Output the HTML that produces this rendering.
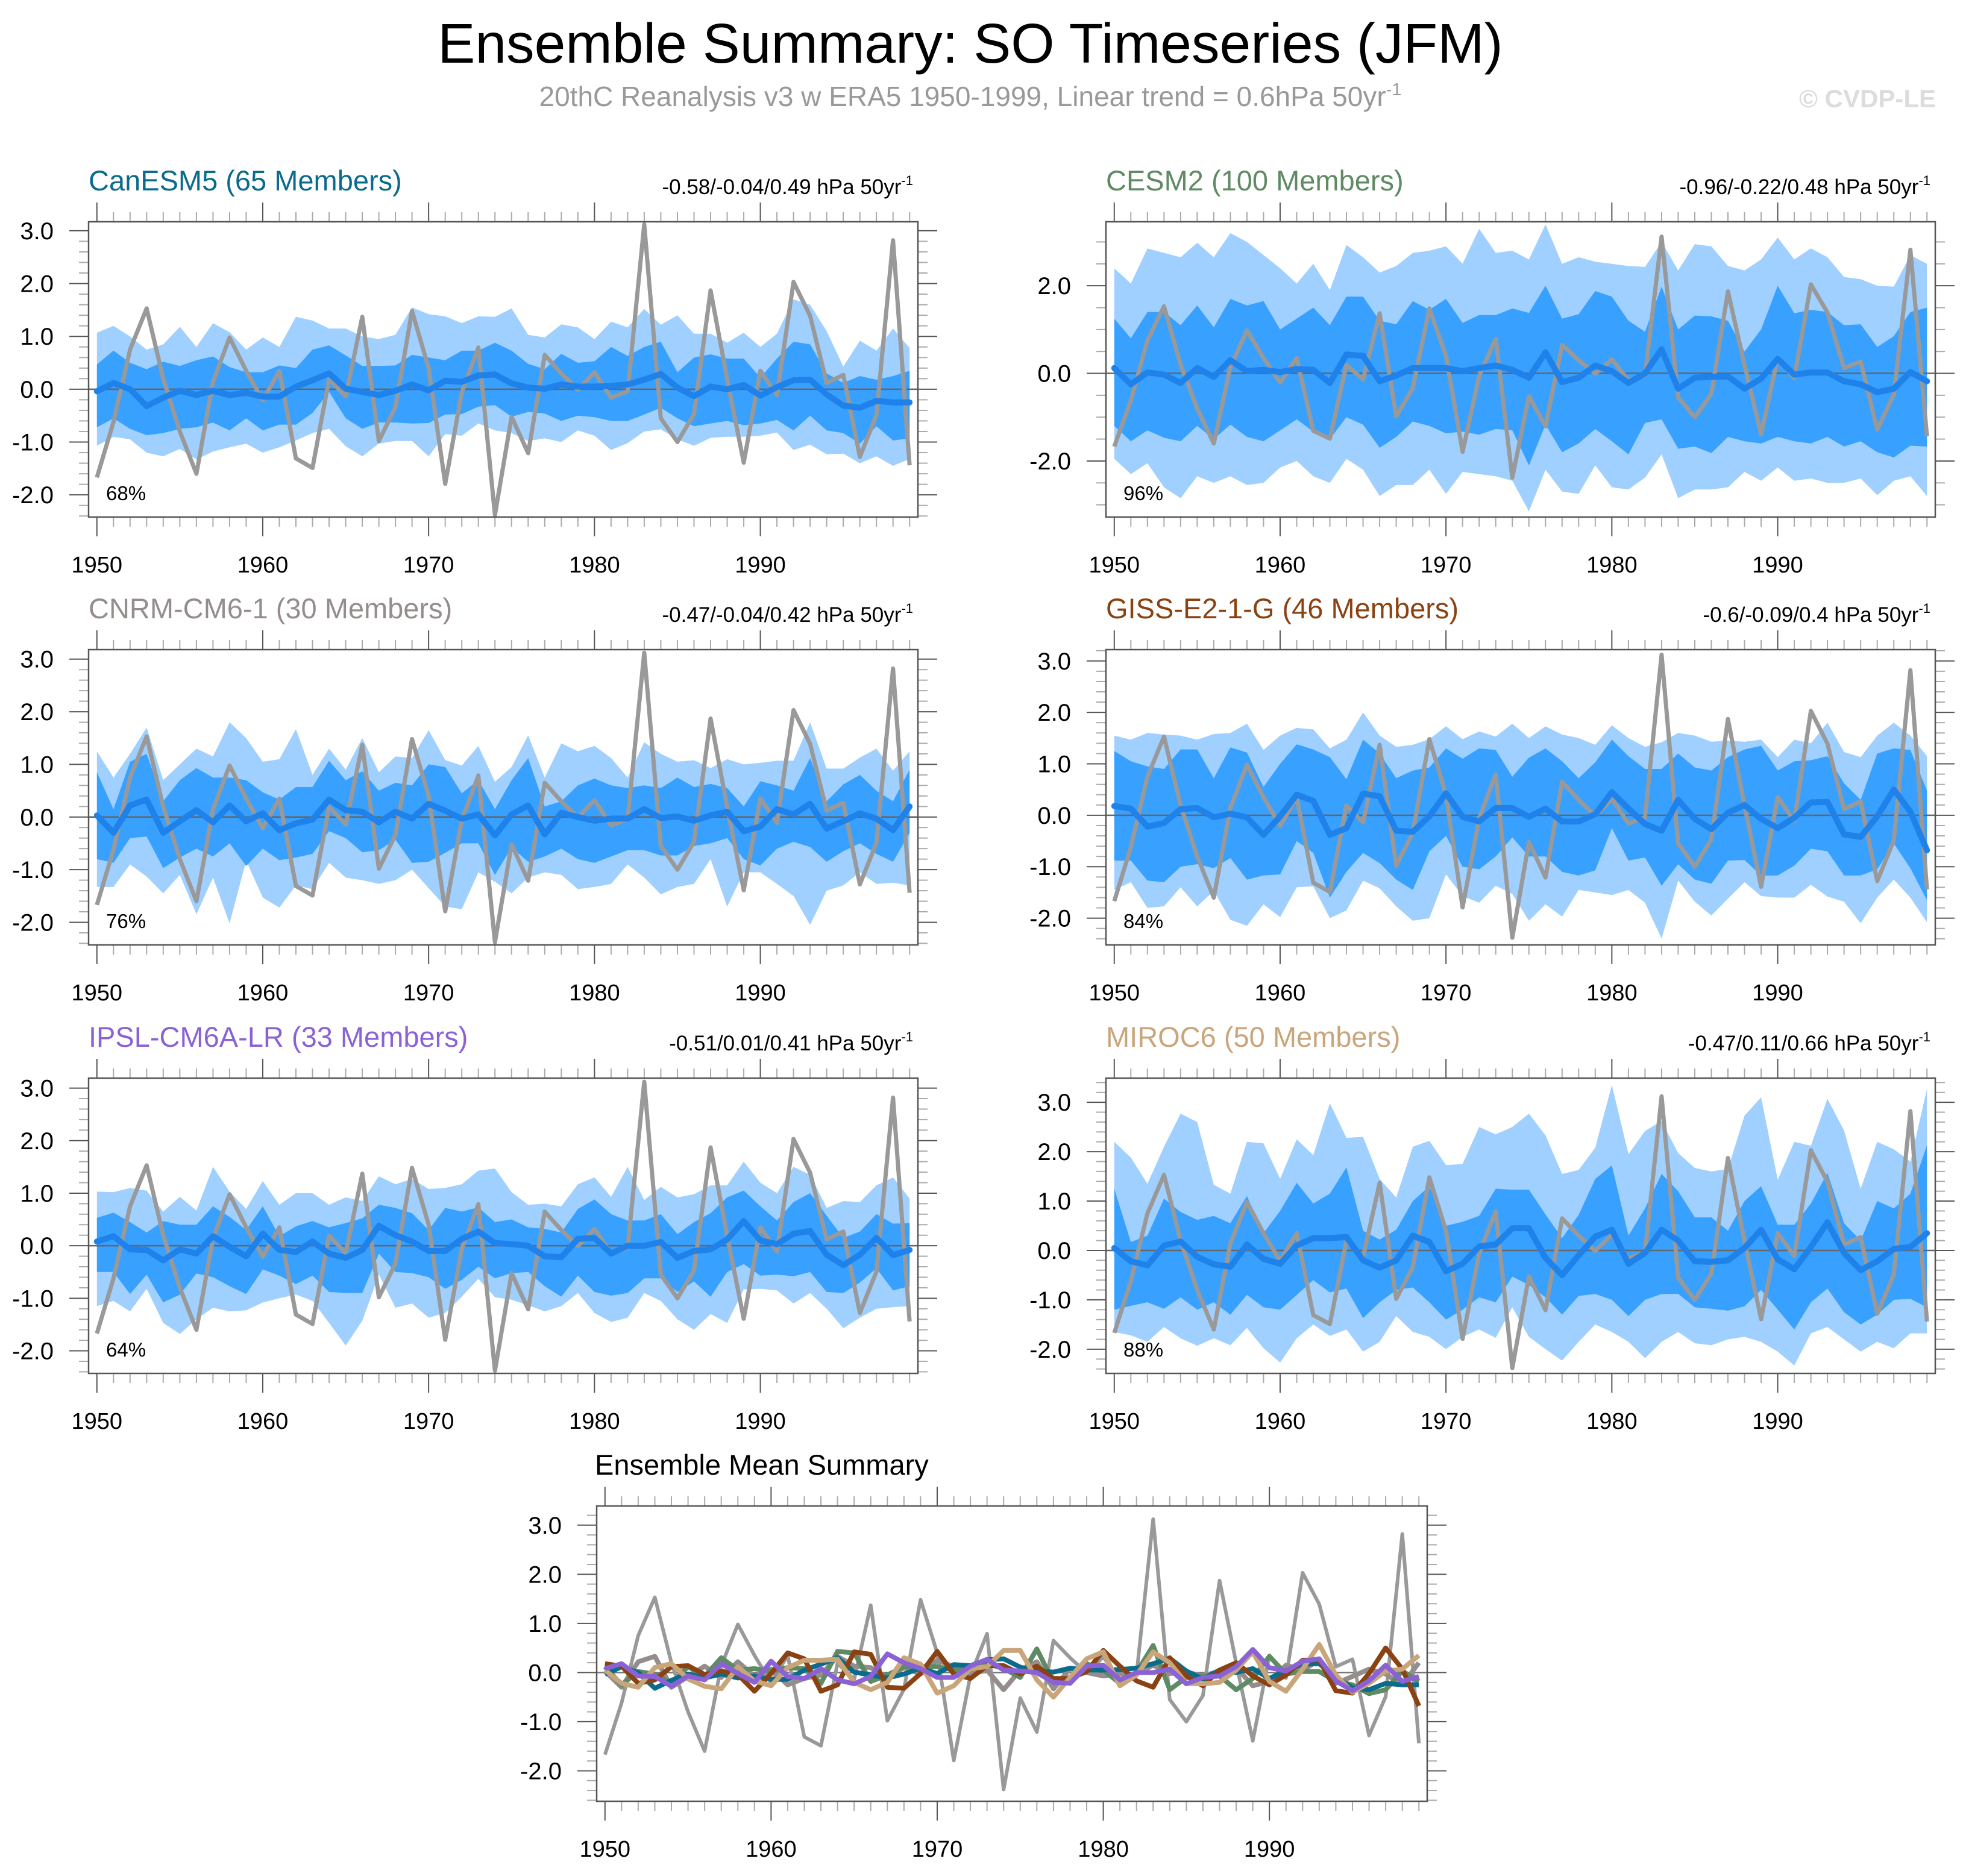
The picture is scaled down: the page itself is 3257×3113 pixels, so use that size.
<!DOCTYPE html>
<html><head><meta charset="utf-8"><style>
html,body{margin:0;padding:0;background:#fff;}
svg{display:block;font-family:"Liberation Sans",Arial,sans-serif;}
</style></head><body>
<svg id="fig" width="3257" height="3113" viewBox="0 0 3257 3113" xmlns="http://www.w3.org/2000/svg">
<text x="1610" y="104" font-size="93" text-anchor="middle" fill="#000">Ensemble Summary: SO Timeseries (JFM)</text>
<text x="1610" y="176" font-size="46" text-anchor="middle" fill="#999">20thC Reanalysis v3 w ERA5 1950-1999, Linear trend = 0.6hPa 50yr<tspan font-size="29" dy="-18">-1</tspan></text>
<text x="3212" y="178" font-size="42" font-weight="bold" text-anchor="end" fill="#dcdcdc">© CVDP-LE</text>
<g id="panels"></g>
</svg>
<script>
const years = Array.from({length:50},(_, i)=>1950+i);
const obs = [-1.67,-0.62,0.75,1.53,0.2,-0.8,-1.6,0.14,0.98,0.35,-0.21,0.35,-1.31,-1.49,0.19,-0.14,1.37,-0.98,-0.34,1.48,0.4,-1.79,-0.06,0.79,-2.38,-0.52,-1.21,0.65,0.3,-0.01,0.32,-0.16,-0.04,3.12,-0.55,-1.0,-0.47,1.87,0.19,-1.39,0.35,-0.11,2.03,1.39,0.12,0.27,-1.28,-0.49,2.82,-1.44];

const canMean = [-0.04,0.12,0.0,-0.32,-0.16,-0.03,-0.11,-0.03,-0.11,-0.07,-0.14,-0.14,0.05,0.17,0.3,0.01,-0.05,-0.11,-0.03,0.09,-0.02,0.16,0.14,0.26,0.28,0.11,0.03,0.01,0.09,0.05,0.05,0.06,0.09,0.18,0.29,0.03,-0.13,0.05,0.0,0.08,-0.12,0.04,0.17,0.18,-0.1,-0.31,-0.35,-0.22,-0.25,-0.25];
const canDarkHi = [0.47,0.73,0.5,0.38,0.52,0.44,0.55,0.62,0.42,0.32,0.32,0.45,0.4,0.75,0.83,0.64,0.44,0.44,0.45,0.65,0.6,0.55,0.73,0.73,0.88,0.73,0.48,0.38,0.67,0.5,0.53,0.8,0.63,0.8,0.9,0.32,0.6,0.66,0.58,0.58,0.22,0.58,0.9,0.85,0.3,0.12,0.25,0.18,0.25,0.35];
const canDarkLo = [-0.72,-0.55,-0.75,-0.87,-0.83,-0.75,-0.72,-0.63,-0.78,-0.55,-0.78,-0.67,-0.67,-0.45,-0.05,-0.55,-0.75,-0.63,-0.63,-0.65,-0.64,-0.48,-0.47,-0.33,-0.3,-0.52,-0.43,-0.46,-0.6,-0.5,-0.53,-0.6,-0.6,-0.48,-0.35,-0.55,-0.7,-0.65,-0.6,-0.68,-0.65,-0.58,-0.78,-0.5,-0.78,-0.83,-1.03,-0.7,-0.97,-0.93];
const canLightHi = [1.07,1.2,1.0,0.75,0.85,1.18,0.8,1.25,1.08,0.75,0.98,0.8,1.37,1.3,1.15,1.15,1.0,0.95,1.03,1.55,1.42,1.38,1.25,1.38,1.37,1.53,1.03,0.98,1.23,1.17,0.95,1.28,1.17,1.52,1.22,1.4,1.05,1.05,0.88,1.07,0.8,1.05,1.7,1.6,1.1,0.43,0.92,0.73,1.15,0.78];
const canLightLo = [-1.07,-0.9,-0.95,-1.2,-1.27,-1.13,-1.33,-1.18,-1.1,-1.03,-1.2,-1.1,-0.97,-0.83,-0.75,-1.08,-1.27,-1.03,-0.98,-0.98,-1.27,-0.85,-0.88,-0.65,-0.78,-0.83,-0.98,-0.93,-1.0,-0.78,-0.88,-1.15,-1.02,-0.8,-0.76,-0.95,-1.07,-0.92,-0.9,-0.9,-0.88,-0.82,-1.15,-1.05,-1.23,-1.22,-1.4,-1.27,-1.45,-1.32];

const cesmMean = [0.12,-0.25,0.02,-0.03,-0.22,0.12,-0.08,0.3,0.05,0.08,0.03,0.1,0.08,-0.22,0.43,0.4,-0.18,-0.05,0.12,0.12,0.12,0.05,0.12,0.18,0.08,-0.1,0.48,-0.2,-0.1,0.18,0.05,-0.22,0.0,0.55,-0.35,-0.1,-0.08,-0.07,-0.35,-0.12,0.33,-0.03,0.02,0.02,-0.18,-0.25,-0.43,-0.35,0.03,-0.18];
const cesmDarkHi = [1.25,0.8,1.4,1.4,1.1,1.55,1.05,1.7,1.55,1.65,1.0,1.25,1.5,1.1,1.75,1.75,1.2,1.12,1.65,1.45,1.7,1.15,1.33,1.33,1.48,1.38,2.0,1.25,1.35,1.88,1.75,1.2,0.95,1.98,1.0,1.32,1.3,1.2,0.5,1.0,2.0,1.37,1.45,1.4,1.1,1.12,0.6,0.85,1.4,1.5];
const cesmDarkLo = [-1.2,-1.55,-1.3,-1.47,-1.55,-1.2,-1.5,-1.17,-1.45,-1.55,-1.3,-1.05,-1.33,-1.5,-1.0,-1.17,-1.7,-1.45,-1.1,-1.2,-1.37,-1.33,-1.4,-1.27,-1.3,-2.1,-1.17,-1.8,-1.6,-1.27,-1.55,-1.85,-1.13,-1.05,-1.72,-1.67,-1.82,-1.45,-1.55,-1.6,-1.45,-1.55,-1.6,-1.45,-1.67,-1.55,-1.8,-1.92,-1.65,-1.67];
const cesmLightHi = [2.4,2.05,2.85,2.75,2.65,2.98,2.65,3.2,3.0,2.7,2.4,2.05,2.5,1.9,2.93,2.65,2.3,2.45,2.75,2.8,2.9,2.5,3.3,2.75,2.8,2.6,3.4,2.5,2.65,2.55,2.5,2.45,2.43,3.0,2.35,2.95,2.9,2.45,2.35,2.6,3.1,2.6,2.85,2.65,2.2,2.15,2.0,1.98,2.7,2.5];
const cesmLightLo = [-1.95,-2.3,-2.05,-2.6,-2.85,-2.35,-2.5,-2.35,-2.55,-2.5,-2.15,-2.0,-2.35,-2.5,-1.95,-2.2,-2.8,-2.55,-2.55,-2.2,-2.75,-2.25,-2.3,-2.35,-2.45,-3.15,-2.2,-2.7,-2.75,-2.1,-2.6,-2.65,-2.38,-1.85,-2.85,-2.65,-2.65,-2.6,-2.25,-2.45,-2.15,-2.45,-2.4,-2.5,-2.5,-2.4,-2.78,-2.45,-2.35,-2.8];

const cnrmMean = [0.03,-0.3,0.22,0.33,-0.3,-0.08,0.13,-0.1,0.22,-0.08,0.07,-0.25,-0.12,-0.05,0.33,0.13,0.1,-0.1,0.1,-0.03,0.25,0.12,-0.03,0.05,-0.35,0.05,0.22,-0.33,0.08,0.0,-0.07,-0.03,-0.03,0.15,-0.02,0.01,-0.07,0.03,0.1,-0.27,-0.18,0.15,0.05,0.25,-0.22,-0.08,0.07,-0.03,-0.25,0.2];
const cnrmDarkHi = [0.85,0.15,1.05,1.2,0.3,0.7,0.93,0.75,0.75,0.7,0.47,0.33,0.57,0.57,1.07,0.7,0.87,0.5,0.65,0.6,1.0,0.95,0.45,0.7,0.15,0.7,1.12,0.2,0.3,0.6,0.73,0.6,0.55,0.6,0.55,0.75,0.57,0.63,0.55,0.2,0.68,0.6,0.5,1.12,0.3,0.62,0.8,0.5,0.3,0.9];
const cnrmDarkLo = [-0.8,-0.87,-0.4,-0.37,-0.97,-0.77,-0.6,-0.75,-0.5,-0.93,-0.6,-0.82,-0.77,-0.7,-0.27,-0.4,-0.67,-0.63,-0.43,-0.87,-0.85,-0.68,-0.5,-0.5,-1.1,-0.58,-0.85,-0.75,-0.6,-0.8,-0.87,-0.75,-0.63,-0.63,-0.73,-0.73,-0.55,-0.5,-0.4,-0.8,-0.92,-0.6,-0.47,-0.57,-0.85,-0.65,-0.5,-0.7,-0.85,-0.3];
const cnrmLightHi = [1.25,0.75,1.2,1.7,0.7,1.0,1.3,1.15,1.8,1.5,1.05,1.1,1.67,0.8,1.3,0.9,1.5,0.85,1.15,1.12,1.65,1.08,0.98,1.35,0.67,0.95,1.55,0.75,1.4,1.25,1.35,1.12,0.75,1.42,1.2,1.05,1.08,0.93,1.1,1.0,1.03,1.07,1.07,1.8,0.92,0.92,1.13,1.3,0.88,1.25];
const cnrmLightLo = [-1.33,-1.33,-0.9,-1.13,-1.45,-1.1,-1.85,-1.15,-2.02,-0.83,-1.53,-1.72,-1.3,-1.37,-0.87,-1.15,-1.2,-1.27,-1.2,-1.0,-1.35,-1.7,-1.75,-1.05,-1.23,-1.45,-1.15,-1.05,-1.1,-1.37,-1.33,-1.27,-0.9,-1.15,-1.47,-1.33,-1.27,-0.8,-1.7,-1.05,-1.05,-1.27,-1.5,-2.05,-1.4,-1.3,-1.05,-1.27,-1.25,-1.3];

const gissMean = [0.18,0.13,-0.22,-0.15,0.12,0.14,-0.04,0.03,-0.04,-0.38,-0.02,0.4,0.28,-0.38,-0.25,0.42,0.37,-0.3,-0.32,-0.02,0.43,-0.03,-0.12,0.14,0.14,-0.03,0.13,-0.12,-0.12,0.02,0.45,0.13,-0.17,-0.3,0.3,-0.07,-0.27,0.05,0.2,-0.07,-0.25,-0.05,0.25,0.26,-0.37,-0.42,-0.02,0.5,0.07,-0.68];
const gissDarkHi = [1.25,1.05,0.95,0.9,1.28,1.28,0.72,1.32,1.22,0.55,1.0,1.38,1.28,1.13,0.7,1.47,1.2,0.72,0.87,0.93,1.3,1.1,1.3,1.27,0.75,1.12,1.3,1.05,0.72,1.03,1.47,1.15,0.9,0.9,1.2,0.93,0.87,1.13,1.28,1.35,0.87,1.05,1.07,1.15,0.62,0.3,1.2,1.3,1.27,0.48];
const gissDarkLo = [-0.88,-0.88,-1.27,-1.3,-1.0,-0.95,-1.03,-0.83,-1.25,-1.17,-1.15,-0.5,-0.73,-1.6,-1.1,-0.73,-0.93,-1.25,-1.45,-0.7,-0.4,-1.0,-1.05,-0.8,-0.43,-0.8,-0.8,-1.1,-1.17,-1.07,-0.25,-0.88,-0.82,-1.37,-0.95,-1.25,-1.33,-0.88,-0.87,-1.17,-1.17,-0.98,-0.65,-0.7,-1.17,-1.17,-1.05,-0.55,-1.03,-1.65];
const gissLightHi = [1.55,1.47,1.6,1.57,1.55,1.47,1.58,1.6,1.78,1.27,1.55,1.7,1.67,1.3,1.47,2.0,1.55,1.33,1.37,1.48,1.73,1.48,1.63,1.53,1.78,1.5,1.73,1.57,1.5,1.37,1.75,1.5,1.33,1.42,1.6,1.55,1.43,1.45,1.43,1.47,1.13,1.47,1.4,1.8,1.23,1.13,1.55,1.8,1.55,1.15];
const gissLightLo = [-1.45,-1.3,-1.8,-1.77,-1.4,-1.77,-1.47,-2.03,-2.15,-1.73,-1.98,-1.4,-1.38,-2.0,-1.85,-1.27,-1.42,-1.77,-2.05,-2.0,-1.15,-1.57,-1.7,-1.37,-1.53,-2.05,-1.73,-1.97,-1.45,-1.5,-1.55,-1.45,-1.7,-2.4,-1.27,-1.68,-1.95,-1.62,-1.3,-1.57,-1.6,-1.6,-1.35,-1.58,-1.68,-2.1,-1.6,-1.25,-1.6,-2.08];

const ipslMean = [0.08,0.18,-0.07,-0.08,-0.28,-0.07,-0.15,0.18,-0.02,-0.2,0.23,-0.08,-0.12,0.08,-0.15,-0.23,-0.08,0.38,0.2,0.08,-0.1,-0.1,0.13,0.27,0.05,0.03,0.0,-0.2,-0.22,0.13,0.15,-0.15,0.0,0.0,0.07,-0.23,-0.1,-0.07,0.12,0.47,0.1,0.03,0.23,0.28,-0.17,-0.37,-0.17,0.15,-0.18,-0.08];
const ipslDarkHi = [0.53,0.63,0.45,0.25,0.47,0.4,0.4,0.75,0.55,0.3,0.75,0.18,0.37,0.47,0.35,0.43,0.52,0.78,0.72,0.62,0.3,0.72,0.65,0.73,0.45,0.5,0.35,0.32,0.25,0.7,0.88,0.6,0.48,0.48,0.6,0.22,0.45,0.62,0.92,1.05,0.75,0.48,0.83,1.0,0.57,0.15,0.27,0.6,0.42,0.43];
const ipslDarkLo = [-0.5,-0.5,-0.92,-0.55,-1.08,-0.93,-0.53,-0.6,-0.77,-0.92,-0.45,-0.57,-0.73,-0.57,-0.88,-0.9,-0.9,-0.15,-0.5,-0.52,-0.6,-0.82,-0.65,-0.4,-0.62,-0.52,-0.5,-0.77,-0.97,-0.57,-0.88,-0.95,-0.9,-0.62,-0.62,-0.88,-0.68,-0.97,-0.5,-0.35,-0.57,-0.55,-0.58,-0.5,-0.88,-0.9,-0.7,-0.43,-0.85,-0.77];
const ipslLightHi = [1.03,1.02,1.1,1.05,0.65,0.93,0.67,1.5,1.03,0.7,1.23,0.78,1.0,1.0,0.78,0.92,0.85,1.32,1.17,1.27,1.08,1.1,1.17,1.43,1.47,1.02,0.78,0.8,0.75,1.17,1.3,0.93,1.5,0.87,1.12,0.92,0.98,1.15,1.15,1.6,1.2,1.0,1.5,1.35,0.72,0.85,0.83,1.15,1.3,0.9];
const ipslLightLo = [-1.15,-1.05,-1.25,-0.82,-1.47,-1.68,-1.4,-1.18,-1.25,-1.23,-1.08,-1.0,-0.93,-1.05,-1.47,-1.9,-1.43,-0.55,-1.18,-1.1,-1.37,-1.28,-0.97,-0.63,-0.98,-1.03,-1.13,-1.25,-1.15,-0.9,-1.28,-1.45,-1.37,-0.9,-1.05,-1.4,-1.6,-1.3,-1.47,-0.83,-0.82,-0.85,-1.1,-0.9,-1.2,-1.57,-1.37,-1.2,-1.17,-1.15];

const mirocMean = [0.05,-0.22,-0.3,0.1,0.18,-0.13,-0.28,-0.33,0.12,-0.17,-0.27,0.1,0.25,0.25,0.27,-0.2,-0.35,-0.2,0.3,0.17,-0.42,-0.27,0.08,0.12,0.45,0.45,-0.15,-0.5,-0.1,0.28,0.42,-0.27,-0.05,0.42,0.2,-0.22,-0.23,-0.2,0.05,0.42,-0.18,-0.38,0.07,0.57,-0.05,-0.4,-0.22,0.03,0.07,0.35];
const mirocDarkHi = [1.25,0.17,0.3,1.05,0.78,0.62,0.7,0.55,1.1,0.35,0.8,1.37,0.95,1.15,1.68,0.4,0.22,0.42,1.0,1.3,0.5,0.58,0.7,1.25,1.23,1.23,0.73,0.25,0.72,1.45,1.72,0.3,0.85,1.55,1.2,0.67,0.67,0.4,1.0,1.3,0.52,0.52,0.95,1.57,0.55,0.2,1.0,0.85,1.15,2.13];
const mirocDarkLo = [-1.2,-1.12,-1.05,-1.18,-0.95,-1.2,-1.05,-1.3,-0.9,-1.15,-1.2,-0.9,-0.6,-0.85,-0.77,-1.37,-1.05,-0.8,-0.75,-1.05,-1.4,-1.2,-0.95,-1.05,-0.53,-0.7,-0.95,-1.3,-0.92,-0.88,-1.0,-1.33,-1.0,-0.88,-0.88,-1.15,-1.18,-1.22,-1.13,-0.8,-1.2,-1.6,-1.05,-0.77,-1.25,-1.5,-1.3,-1.0,-0.98,-1.15];
const mirocLightHi = [2.2,1.88,1.35,2.1,2.77,2.6,1.33,1.15,2.2,2.17,1.45,2.25,1.93,2.98,2.28,2.3,1.45,1.07,2.1,2.22,1.73,1.75,2.5,2.35,2.5,2.77,2.33,1.55,1.63,2.08,3.35,1.95,2.42,2.62,1.97,1.67,1.6,1.65,2.73,3.1,1.43,2.2,2.12,3.07,2.43,1.25,2.2,2.05,1.8,3.27];
const mirocLightLo = [-1.65,-1.72,-1.85,-1.55,-1.78,-1.93,-1.78,-1.92,-1.57,-1.98,-2.27,-1.78,-1.5,-1.73,-1.6,-2.05,-1.85,-1.33,-1.65,-1.75,-2.0,-1.75,-1.6,-1.77,-1.15,-1.75,-2.0,-2.23,-1.85,-1.5,-1.65,-1.85,-2.18,-1.85,-1.65,-1.88,-1.92,-1.8,-1.75,-1.85,-2.05,-2.33,-1.68,-1.55,-1.8,-2.05,-1.85,-1.98,-1.68,-1.68];

const xTickLabels = ["1950","1960","1970","1980","1990"];
const modelNames = ["CanESM5 (65 Members)","CESM2 (100 Members)","CNRM-CM6-1 (30 Members)","GISS-E2-1-G (46 Members)","IPSL-CM6A-LR (33 Members)","MIROC6 (50 Members)"];
const trendLabels = ["-0.58/-0.04/0.49 hPa 50yr","-0.96/-0.22/0.48 hPa 50yr","-0.47/-0.04/0.42 hPa 50yr","-0.6/-0.09/0.4 hPa 50yr","-0.51/0.01/0.41 hPa 50yr","-0.47/0.11/0.66 hPa 50yr"];
const pctLabels = ["68%","96%","76%","84%","64%","88%"];

const NS = "http://www.w3.org/2000/svg";
const root = document.getElementById('panels');
function mk(tag, attrs, parent){const e=document.createElementNS(NS,tag);for(const k in attrs)e.setAttribute(k,attrs[k]);(parent||root).appendChild(e);return e;}

const modelColors = ["#0b6b8c","#5f8a63","#958c8c","#8b4212","#8a62d6","#c9a57a"];
const panels = [
 {slug:"canesm5",x:147,y:368,ymin:-2.42,ymax:3.17,mean:canMean,dh:canDarkHi,dl:canDarkLo,lh:canLightHi,ll:canLightLo},
 {slug:"cesm2",x:1835,y:368,ymin:-3.28,ymax:3.46,mean:cesmMean,dh:cesmDarkHi,dl:cesmDarkLo,lh:cesmLightHi,ll:cesmLightLo,major:2,minor:0.5},
 {slug:"cnrm",x:147,y:1078,ymin:-2.43,ymax:3.18,mean:cnrmMean,dh:cnrmDarkHi,dl:cnrmDarkLo,lh:cnrmLightHi,ll:cnrmLightLo},
 {slug:"giss",x:1835,y:1078,ymin:-2.52,ymax:3.22,mean:gissMean,dh:gissDarkHi,dl:gissDarkLo,lh:gissLightHi,ll:gissLightLo},
 {slug:"ipsl",x:147,y:1789,ymin:-2.43,ymax:3.19,mean:ipslMean,dh:ipslDarkHi,dl:ipslDarkLo,lh:ipslLightHi,ll:ipslLightLo},
 {slug:"miroc6",x:1835,y:1789,ymin:-2.49,ymax:3.49,mean:mirocMean,dh:mirocDarkHi,dl:mirocDarkLo,lh:mirocLightHi,ll:mirocLightLo}
];
const W=1376,H=490;

function axes(g,px,py,w,h,ymin,ymax,major,minor,name){
  const xs=v=>px+(v-1949.5)/50*w;
  const ys=v=>py+h-(v-ymin)/(ymax-ymin)*h;
  for(let yr=1950;yr<=1999;yr++){
    const isMaj=(yr%10===0);const L=isMaj?32:16;const X=xs(yr);
    const c=isMaj?"#555":"#aaa";
    const t1=mk('line',{x1:X,x2:X,y1:py,y2:py-L,stroke:c,'stroke-width':2},g);
    
    
    const t2=mk('line',{x1:X,x2:X,y1:py+h,y2:py+h+L,stroke:c,'stroke-width':2},g);
    
    
  }
  xTickLabels.forEach(lab=>{
    const t=mk('text',{x:xs(+lab),y:py+h+92,'font-size':38,'text-anchor':'middle',fill:'#000'},g);
    t.textContent=lab;
    
    
  });
  const n0=Math.ceil(ymin/minor-1e-6),n1=Math.floor(ymax/minor+1e-6);
  for(let n=n0;n<=n1;n++){
    const v=n*minor;const isMaj=Math.abs(v/major-Math.round(v/major))<1e-6;
    const L=isMaj?32:16;const Y=ys(v);const c=isMaj?"#555":"#aaa";
    const a=mk('line',{x1:px,x2:px-L,y1:Y,y2:Y,stroke:c,'stroke-width':2},g);
    
    
    const b=mk('line',{x1:px+w,x2:px+w+L,y1:Y,y2:Y,stroke:c,'stroke-width':2},g);
    
    
    if(isMaj){
      const t=mk('text',{x:px-58,y:Y+14,'font-size':40,'text-anchor':'end',fill:'#000'},g);
      t.textContent=v.toFixed(1);
      
      
    }
  }
  return {xs,ys};
}
function linePath(xs,ys,arr){return arr.map((v,i)=>(i?'L':'M')+xs(years[i]).toFixed(1)+' '+ys(v).toFixed(1)).join(' ');}
function bandPath(xs,ys,hi,lo){
  let d=hi.map((v,i)=>(i?'L':'M')+xs(years[i]).toFixed(1)+' '+ys(v).toFixed(1)).join(' ');
  for(let i=lo.length-1;i>=0;i--)d+=' L'+xs(years[i]).toFixed(1)+' '+ys(lo[i]).toFixed(1);
  return d+' Z';
}

panels.forEach((p,k)=>{
  const g=mk('g',{});
  
  
  const t=mk('text',{x:p.x,y:p.y-52,'font-size':47,fill:modelColors[k]},g);
  t.textContent=modelNames[k];
  
  
  const tr=mk('text',{x:p.x+W-8,y:p.y-46,'font-size':35,'text-anchor':'end',fill:'#000'},g);
  tr.textContent=trendLabels[k];
  const sup=mk('tspan',{'font-size':22,dy:-15},tr);
  sup.textContent='-1';
  
  
  const {xs,ys}=axes(g,p.x,p.y,W,H,p.ymin,p.ymax,p.major||1,p.minor||0.2,p.slug);
  const lb=mk('path',{d:bandPath(xs,ys,p.lh,p.ll),fill:'#a0d0ff'},g);
  
  
  const db=mk('path',{d:bandPath(xs,ys,p.dh,p.dl),fill:'#38a0ff'},g);
  
  
  const z=mk('line',{x1:p.x,x2:p.x+W,y1:ys(0),y2:ys(0),stroke:'#666','stroke-width':2.5},g);
  
  
  const ob=mk('path',{d:linePath(xs,ys,obs),fill:'none',stroke:'#999','stroke-width':7,'stroke-linejoin':'round'},g);
  
  
  const mn=mk('path',{d:linePath(xs,ys,p.mean),fill:'none',stroke:'#1e82ea','stroke-width':10,'stroke-linejoin':'round','stroke-linecap':'round'},g);
  
  
  const pc=mk('text',{x:p.x+29,y:p.y+H-28,'font-size':33,fill:'#000'},g);
  pc.textContent=pctLabels[k];
  
  
  const bx=mk('rect',{x:p.x,y:p.y,width:W,height:H,fill:'none',stroke:'#555','stroke-width':2.5},g);
  
  
});

(function(){
  const px=990,py=2499,w=1378,h=490,ymin=-2.62,ymax=3.39;
  const g=mk('g',{});
  
  
  const t=mk('text',{x:px-3,y:py-52,'font-size':47,fill:'#000'},g);
  t.textContent='Ensemble Mean Summary';
  
  
  const {xs,ys}=axes(g,px,py,w,h,ymin,ymax,1,0.2,'summary');
  const z=mk('line',{x1:px,x2:px+w,y1:ys(0),y2:ys(0),stroke:'#777','stroke-width':2.5},g);
  
  
  const ob=mk('path',{d:linePath(xs,ys,obs),fill:'none',stroke:'#999','stroke-width':6,'stroke-linejoin':'round'},g);
  
  
  const order=[2,1,0,3,5,4];
  const means=[canMean,cesmMean,cnrmMean,gissMean,ipslMean,mirocMean];
  order.forEach(k=>{
    const l=mk('path',{d:linePath(xs,ys,means[k]),fill:'none',stroke:modelColors[k],'stroke-width':8,'stroke-linejoin':'round'},g);
    
    
  });
  const bx=mk('rect',{x:px,y:py,width:w,height:h,fill:'none',stroke:'#555','stroke-width':2.5},g);
  
  
})();
</script>
</body></html>
